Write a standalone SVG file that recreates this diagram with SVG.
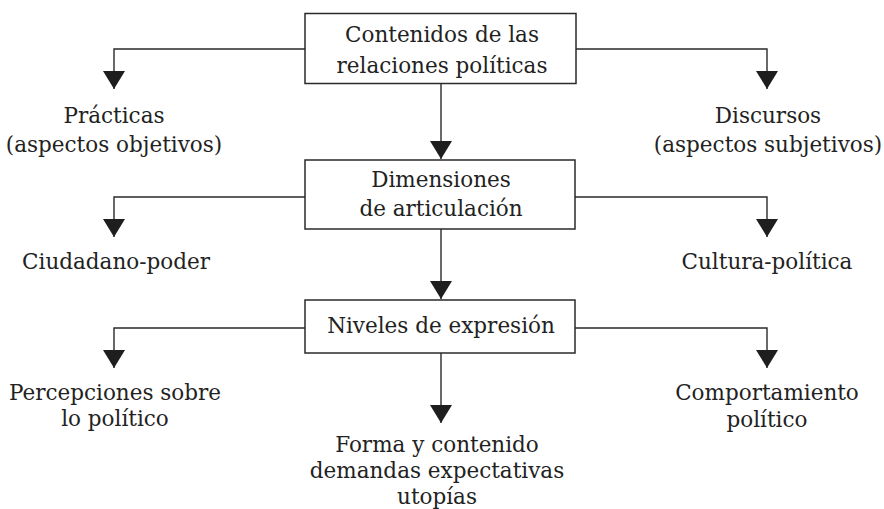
<svg xmlns="http://www.w3.org/2000/svg" width="884" height="509" viewBox="0 0 884 509">
  <style>
    .box { fill: #ffffff; stroke: #2a2a2a; stroke-width: 1.5; }
    .conn { fill: none; stroke: #2a2a2a; stroke-width: 1.4; }
    text { font-family: "DejaVu Serif", "Liberation Serif", serif; font-size: 21.5px; fill: #222222; text-anchor: middle; }
  </style>
  <defs>
    <marker id="arrow" markerUnits="userSpaceOnUse" markerWidth="18" markerHeight="22" viewBox="0 -11 18 22" refX="18" refY="0" orient="auto">
      <path d="M0,-11 L18,0 L0,11 z" fill="#1e1e1e"/>
    </marker>
  </defs>
  <rect width="884" height="509" fill="#ffffff"/>

  <g id="connectors">
    <path class="conn" d="M305,49 H114 V89" marker-end="url(#arrow)"/>
    <path class="conn" d="M576,49 H767 V89" marker-end="url(#arrow)"/>
    <path class="conn" d="M441,83 V159" marker-end="url(#arrow)"/>
    <path class="conn" d="M305,197 H114 V237" marker-end="url(#arrow)"/>
    <path class="conn" d="M575,197 H767 V237" marker-end="url(#arrow)"/>
    <path class="conn" d="M441,229 V299" marker-end="url(#arrow)"/>
    <path class="conn" d="M305,328 H114 V368" marker-end="url(#arrow)"/>
    <path class="conn" d="M575,328 H767 V368" marker-end="url(#arrow)"/>
    <path class="conn" d="M441,353 V423" marker-end="url(#arrow)"/>
  </g>

  <g id="contenidos">
    <rect class="box" x="305" y="13.5" width="271" height="70"/>
    <text x="442" y="42">Contenidos de las</text>
    <text x="442" y="73">relaciones políticas</text>
  </g>
  <g id="practicas">
    <text x="114" y="123">Prácticas</text>
    <text x="114" y="152">(aspectos objetivos)</text>
  </g>
  <g id="discursos">
    <text x="768" y="123">Discursos</text>
    <text x="768" y="152">(aspectos subjetivos)</text>
  </g>
  <g id="dimensiones">
    <rect class="box" x="305" y="160" width="270" height="69"/>
    <text x="441" y="187">Dimensiones</text>
    <text x="441" y="216">de articulación</text>
  </g>
  <g id="ciudadano">
    <text x="116" y="269">Ciudadano-poder</text>
  </g>
  <g id="cultura">
    <text x="767" y="269">Cultura-política</text>
  </g>
  <g id="niveles">
    <rect class="box" x="305" y="300" width="270" height="53"/>
    <text x="441" y="333">Niveles de expresión</text>
  </g>
  <g id="percepciones">
    <text x="115" y="400">Percepciones sobre</text>
    <text x="115" y="426">lo político</text>
  </g>
  <g id="comportamiento">
    <text x="767" y="400">Comportamiento</text>
    <text x="767" y="427">político</text>
  </g>
  <g id="forma">
    <text x="437" y="452">Forma y contenido</text>
    <text x="437" y="478">demandas expectativas</text>
    <text x="437" y="504">utopías</text>
  </g>
</svg>
